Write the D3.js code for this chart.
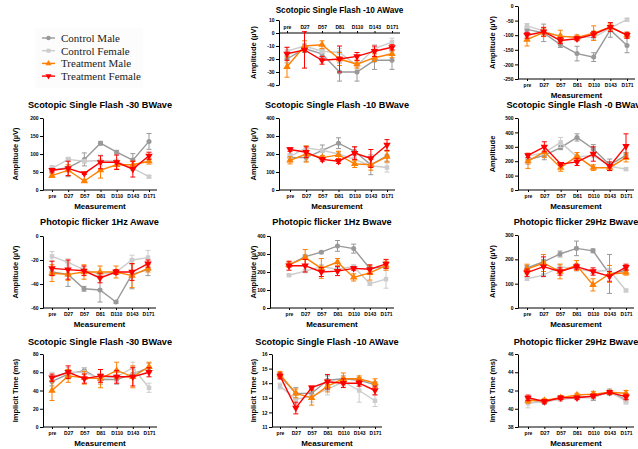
<!DOCTYPE html>
<html>
<head>
    <meta charset="utf-8">
    <style>
        body { margin: 0; background: #fff; }
        svg { display: block; }
    </style>
</head>
<body>
    <script src="https://cdn.jsdelivr.net/npm/d3@7"></script>
    <script>
        // categories and series
        var visits = ["pre", "D27", "D57", "D81", "D110", "D143", "D171"];
        var seriesNames = ["Control Male", "Control Female", "Treatment Male", "Treatment Female"];
        var seriesColors = ["#999999", "#cccccc", "#ff7f00", "#ff0000"];

        // rows: control male, control female, treatment male, treatment female
        var scot10aAmpMean = [[-20, -12, -16, -30, -30, -21, -21], [-14, -10, -14, -15, -25, -12, -7], [-26, -10, -9, -20, -24, -19, -16], [-16, -13, -21, -20, -18, -14, -11]];
        var scot10aAmpErr = [[3, 3, 3, 7, 7, 7, 7], [3, 2, 2, 3, 3, 3, 3], [8, 4, 3, 5, 3, 3, 3], [5, 14, 3, 10, 3, 4, 2]];

        var topRightMean = [[-80, -92, -132, -163, -175, -82, -135], [-68, -85, -105, -105, -108, -75, -47], [-115, -90, -103, -108, -93, -72, -100], [-100, -88, -118, -112, -97, -72, -100]];
        var topRightErr = [[10, 30, 10, 25, 15, 25, 25], [8, 8, 8, 6, 8, 8, 5], [22, 15, 20, 8, 25, 10, 10], [10, 15, 10, 7, 10, 15, 10]];

        var scot30bAmpMean = [[55, 62, 85, 130, 105, 83, 135], [60, 85, 80, 82, 80, 60, 37], [40, 55, 25, 55, 70, 70, 80], [55, 60, 46, 77, 77, 58, 95]];
        var scot30bAmpErr = [[5, 25, 18, 5, 5, 18, 22], [8, 6, 5, 15, 5, 5, 3], [5, 15, 3, 22, 12, 10, 8], [5, 20, 3, 18, 20, 22, 10]];

        var scot10bAmpMean = [[180, 180, 220, 260, 215, 140, 190], [185, 235, 220, 200, 170, 135, 125], [165, 200, 180, 195, 145, 140, 185], [225, 210, 170, 160, 205, 175, 250]];
        var scot10bAmpErr = [[20, 20, 30, 30, 25, 55, 30], [10, 10, 10, 10, 10, 10, 25], [20, 45, 10, 20, 20, 30, 30], [10, 30, 10, 12, 35, 50, 30]];

        var scot0bAmpMean = [[210, 240, 295, 365, 285, 175, 240], [235, 260, 330, 230, 240, 165, 145], [200, 265, 155, 235, 155, 155, 225], [240, 300, 180, 195, 250, 165, 305]];
        var scot0bAmpErr = [[30, 30, 15, 25, 30, 40, 20], [15, 15, 35, 10, 10, 10, 8], [50, 40, 25, 25, 20, 20, 30], [15, 35, 10, 25, 50, 30, 85]];

        var phot1aAmpMean = [[-30, -32, -44, -45, -55, -32, -28], [-17, -22, -28, -32, -30, -20, -18], [-31, -32, -30, -30, -30, -33, -27], [-27, -28, -29, -35, -30, -30, -23]];
        var phot1aAmpErr = [[3, 10, 2, 10, 1, 12, 5], [4, 3, 2, 2, 2, 4, 6], [7, 5, 6, 5, 5, 10, 3], [6, 8, 4, 4, 2, 7, 3]];

        var phot1bAmpMean = [[240, 285, 310, 345, 330, 220, 230], [182, 205, 230, 215, 230, 135, 160], [240, 280, 220, 255, 170, 195, 235], [235, 235, 200, 205, 220, 215, 245]];
        var phot1bAmpErr = [[10, 10, 5, 30, 25, 10, 10], [5, 5, 10, 10, 10, 10, 50], [15, 45, 55, 20, 20, 40, 25], [25, 35, 25, 25, 10, 25, 25]];

        var phot29bAmpMean = [[165, 190, 222, 245, 235, 140, 155], [120, 135, 170, 160, 150, 155, 72], [160, 185, 150, 175, 95, 140, 145], [145, 170, 150, 170, 150, 130, 168]];
        var phot29bAmpErr = [[10, 10, 12, 30, 8, 80, 10], [5, 5, 10, 8, 8, 8, 5], [20, 35, 30, 20, 25, 35, 10], [15, 40, 15, 10, 15, 20, 12]];

        var scot30bTimeMean = [[50, 58, 62, 52, 52, 58, 65], [55, 60, 60, 53, 55, 65, 43], [40, 56, 54, 53, 62, 55, 66], [54, 60, 53, 56, 55, 55, 60]];
        var scot30bTimeErr = [[5, 5, 3, 5, 5, 5, 5], [5, 5, 5, 5, 5, 6, 5], [11, 7, 7, 10, 9, 12, 5], [4, 7, 5, 7, 7, 10, 5]];

        var scot10aTimeMean = [[14.5, 13.3, 13.3, 14.2, 14.3, 14.2, 13.9], [13.8, 12.9, 13.1, 13.6, 14.1, 13.5, 12.8], [14.6, 13.3, 13.0, 13.8, 14.3, 14.3, 14.0], [14.5, 12.3, 13.7, 14.1, 14.0, 14.0, 13.5]];
        var scot10aTimeErr = [[0.2, 0.4, 0.3, 0.3, 0.2, 0.2, 0.2], [0.2, 0.3, 0.4, 0.4, 0.3, 0.8, 0.4], [0.2, 0.3, 0.5, 0.4, 0.4, 0.2, 0.3], [0.2, 0.4, 0.1, 0.5, 0.3, 0.2, 0.3]];

        var phot29bTimeMean = [[41.0, 40.7, 41.2, 41.3, 41.3, 41.8, 41.0], [40.6, 40.8, 41.0, 41.2, 41.2, 41.9, 40.8], [40.9, 40.9, 41.2, 41.5, 41.6, 41.8, 41.7], [41.2, 40.8, 41.2, 41.2, 41.4, 41.8, 41.3]];
        var phot29bTimeErr = [[0.3, 0.2, 0.2, 0.2, 0.4, 0.3, 0.3], [0.5, 0.2, 0.2, 0.2, 0.2, 0.3, 0.3], [0.3, 0.2, 0.2, 0.2, 0.3, 0.2, 0.3], [0.3, 0.2, 0.2, 0.2, 0.2, 0.2, 0.3]];

        var ampLabel = "Amplitude (\u00b5V)";
        var timeLabel = "Implicit Time (ms)";

        // panel layout
        var panels = [
            { mean: scot10aAmpMean, err: scot10aAmpErr, title: "Scotopic Single Flash -10 AWave", titleSize: 8.2, ylab: ampLabel,
              ax: 279, x0: 287, x1: 392, xEnd: 400, yT: 20, yB: 85, lo: -40, hi: 10, ticks: [-40, -30, -20, -10, 0, 10], top: true, titleY: 13, xlab: false },
            { mean: topRightMean, err: topRightErr, title: null, ylab: ampLabel,
              ax: 518, x0: 527, x1: 627, xEnd: 635, yT: 6, yB: 79, lo: -250, hi: 0, ticks: [-250, -200, -150, -100, -50, 0], xlab: true },
            { mean: scot30bAmpMean, err: scot30bAmpErr, title: "Scotopic Single Flash -30 BWave", ylab: ampLabel,
              ax: 43, x0: 52, x1: 149, xEnd: 157, yT: 118, yB: 190, lo: 0, hi: 200, ticks: [0, 50, 100, 150, 200], titleY: 108, xlab: true },
            { mean: scot10bAmpMean, err: scot10bAmpErr, title: "Scotopic Single Flash -10 BWave", ylab: ampLabel,
              ax: 279, x0: 290, x1: 387, xEnd: 395, yT: 118, yB: 190, lo: 0, hi: 400, ticks: [0, 100, 200, 300, 400], titleY: 108, xlab: true },
            { mean: scot0bAmpMean, err: scot0bAmpErr, title: "Scotopic Single Flash -0 BWave", ylab: "Amplitude",
              ax: 518, x0: 528, x1: 626, xEnd: 634, yT: 118, yB: 190, lo: 0, hi: 500, ticks: [0, 100, 200, 300, 400, 500], titleY: 108, xlab: true },
            { mean: phot1aAmpMean, err: phot1aAmpErr, title: "Photopic flicker 1Hz Awave", ylab: ampLabel,
              ax: 43, x0: 52, x1: 148, xEnd: 156, yT: 236, yB: 308, lo: -60, hi: 0, ticks: [-60, -40, -20, 0], titleY: 225, xlab: true },
            { mean: phot1bAmpMean, err: phot1bAmpErr, title: "Photopic flicker 1Hz Bwave", ylab: ampLabel,
              ax: 270, x0: 289, x1: 386, xEnd: 394, yT: 236, yB: 308, lo: 0, hi: 400, ticks: [0, 100, 200, 300, 400], titleY: 225, xlab: true },
            { mean: phot29bAmpMean, err: phot29bAmpErr, title: "Photopic flicker 29Hz Bwave", ylab: ampLabel,
              ax: 518, x0: 527, x1: 626, xEnd: 634, yT: 235, yB: 308, lo: 0, hi: 300, ticks: [0, 100, 200, 300], titleY: 225, xlab: true },
            { mean: scot30bTimeMean, err: scot30bTimeErr, title: "Scotopic Single Flash -30 BWave", ylab: timeLabel,
              ax: 43, x0: 52, x1: 149, xEnd: 157, yT: 354, yB: 427, lo: 0, hi: 80, ticks: [0, 20, 40, 60, 80], titleY: 345, xlab: true },
            { mean: scot10aTimeMean, err: scot10aTimeErr, title: "Scotopic Single Flash -10 AWave", ylab: timeLabel,
              ax: 272, x0: 280, x1: 375, xEnd: 382, yT: 354, yB: 427, lo: 11, hi: 16, ticks: [11, 12, 13, 14, 15, 16], titleY: 345, xlab: true },
            { mean: phot29bTimeMean, err: phot29bTimeErr, title: "Photopic flicker 29Hz Bwave", ylab: timeLabel,
              ax: 518, x0: 528, x1: 626, xEnd: 634, yT: 354, yB: 427, lo: 38, hi: 46, ticks: [38, 40, 42, 44, 46], titleY: 345, xlab: true }
        ];

        var font = "'Liberation Sans', Arial, sans-serif";
        var symbols = [d3.symbolCircle, d3.symbolSquare, d3.symbolTriangle, d3.symbolTriangle];
        var symbolSizes = [20, 20, 24, 24];
        var symbolRot = [0, 0, 0, 180];

        var svg = d3.select("body").append("svg")
            .attr("width", 638)
            .attr("height", 449)
            .style("font-family", font);

        panels.forEach(drawPanel);
        drawLegend();

        function drawPanel(p) {
            var g = svg.append("g");
            var x = d3.scalePoint().domain(visits).range([p.x0, p.x1]);
            var y = d3.scaleLinear().domain([p.lo, p.hi]).range([p.yB, p.yT]);

            var yAxisNodes = g.append("g")
                .attr("transform", "translate(" + p.ax + ",0)")
                .call(d3.axisLeft(y).tickValues(p.ticks).tickFormat(function (d) { return String(d); })
                    .tickSize(3).tickSizeOuter(0).tickPadding(1.5));
            styleAxisNodes(yAxisNodes);

            var xAxisY = p.top ? y(0) : p.yB;
            var xAxis = (p.top ? d3.axisTop(x) : d3.axisBottom(x)).tickSize(2).tickSizeOuter(0).tickPadding(2);
            var xAxisNodes = g.append("g")
                .attr("transform", "translate(0," + xAxisY + ")")
                .call(xAxis);
            xAxisNodes.select(".domain").remove();
            styleAxisNodes(xAxisNodes);
            g.append("line")
                .attr("x1", p.ax).attr("x2", p.xEnd)
                .attr("y1", xAxisY).attr("y2", xAxisY)
                .attr("stroke", "black").attr("stroke-width", 1);

            if (p.title) {
                g.append("text")
                    .attr("x", (p.ax + p.xEnd) / 2)
                    .attr("y", p.titleY)
                    .attr("text-anchor", "middle")
                    .attr("font-weight", "bold")
                    .attr("font-size", p.titleSize || 9.2)
                    .text(p.title);
            }
            if (p.xlab) {
                g.append("text")
                    .attr("x", (p.ax + p.xEnd) / 2)
                    .attr("y", p.yB + 18.5)
                    .attr("text-anchor", "middle")
                    .attr("font-weight", "bold")
                    .attr("font-size", 8)
                    .text("Measurement");
            }
            var labX = p.ax < 100 ? 15 : (p.ax < 400 ? 253 : 492);
            g.append("text")
                .attr("transform", "translate(" + (labX + 2.5) + "," + ((p.yT + p.yB) / 2) + ") rotate(-90)")
                .attr("text-anchor", "middle")
                .attr("font-weight", "bold")
                .attr("font-size", 7.5)
                .text(p.ylab);

            p.mean.forEach(function (vals, s) {
                var pts = vals.map(function (v, i) {
                    return { k: visits[i], v: v, e: p.err[s][i] };
                });
                var sg = g.append("g").attr("stroke", seriesColors[s]).attr("fill", seriesColors[s]);
                sg.append("path")
                    .datum(pts)
                    .attr("fill", "none")
                    .attr("stroke-width", 1.4)
                    .attr("d", d3.line().x(function (d) { return x(d.k); }).y(function (d) { return y(d.v); }));
                var eb = sg.selectAll(".eb").data(pts).enter().append("g").attr("stroke-width", 1);
                eb.append("line")
                    .attr("x1", function (d) { return x(d.k); })
                    .attr("x2", function (d) { return x(d.k); })
                    .attr("y1", function (d) { return y(d.v - d.e); })
                    .attr("y2", function (d) { return y(d.v + d.e); });
                [-1, 1].forEach(function (sign) {
                    eb.append("line")
                        .attr("x1", function (d) { return x(d.k) - 2.5; })
                        .attr("x2", function (d) { return x(d.k) + 2.5; })
                        .attr("y1", function (d) { return y(d.v + sign * d.e); })
                        .attr("y2", function (d) { return y(d.v + sign * d.e); });
                });
                sg.selectAll(".mk").data(pts).enter().append("path")
                    .attr("stroke", "none")
                    .attr("d", d3.symbol().type(symbols[s]).size(symbolSizes[s]))
                    .attr("transform", function (d) {
                        return "translate(" + x(d.k) + "," + y(d.v) + ") rotate(" + symbolRot[s] + ")";
                    });
            });
        }

        function drawLegend() {
            var lg = svg.append("g");
            lg.append("rect")
                .attr("x", 35).attr("y", 28).attr("width", 108).attr("height", 60)
                .attr("fill", "#fcfcfc");
            seriesNames.forEach(function (name, s) {
                var cy = 38 + s * 12.7;
                lg.append("line")
                    .attr("x1", 42).attr("x2", 55).attr("y1", cy).attr("y2", cy)
                    .attr("stroke", seriesColors[s]).attr("stroke-width", 1.4);
                lg.append("path")
                    .attr("fill", seriesColors[s])
                    .attr("d", d3.symbol().type(symbols[s]).size(16))
                    .attr("transform", "translate(48.5," + cy + ") rotate(" + symbolRot[s] + ")");
                lg.append("text")
                    .attr("x", 61).attr("y", cy + 3.8)
                    .attr("font-family", "'Liberation Serif', 'Times New Roman', serif")
                    .attr("font-size", 11)
                    .attr("fill", "#222")
                    .text(name);
            });
        }

        function styleAxisNodes(axisNodes) {
            axisNodes.selectAll(".domain, .tick line")
                .attr("stroke", "black")
                .attr("stroke-width", 1);
            axisNodes.selectAll(".tick text")
                .attr("font-family", font)
                .attr("font-weight", "bold")
                .attr("font-size", 5);
        }
    </script>
</body>
</html>
